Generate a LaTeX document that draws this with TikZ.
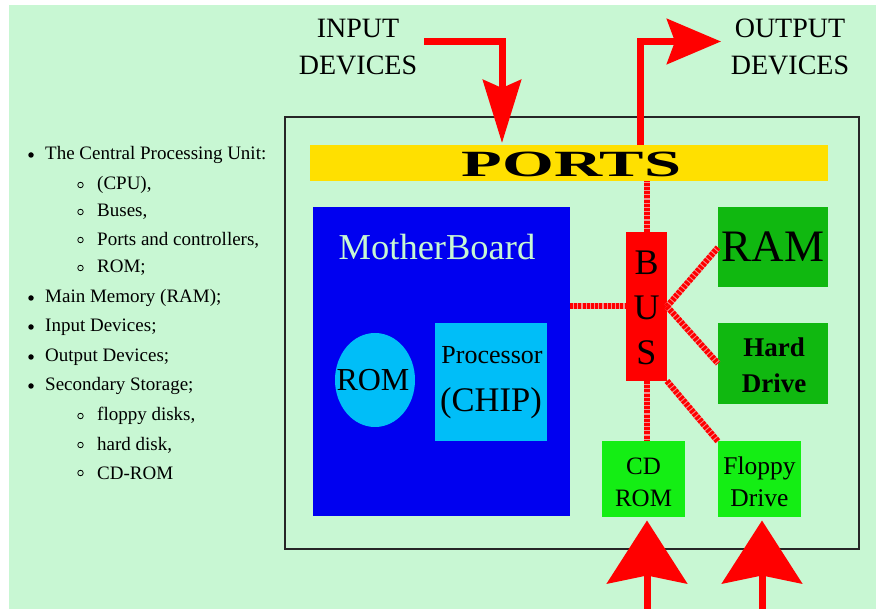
\documentclass[tikz,border=0pt]{standalone}
\usepackage{fontspec}
\setmainfont{Liberation Serif}
\usepackage{graphicx}
\usetikzlibrary{arrows.meta,shapes.geometric}
\definecolor{bg}{HTML}{C8F7D3}
\definecolor{portsyellow}{HTML}{FFE000}
\definecolor{mbblue}{HTML}{0000F0}
\definecolor{chipblue}{HTML}{00BEF8}
\definecolor{darkgreen}{HTML}{10B810}
\definecolor{brightgreen}{HTML}{14EE14}
\definecolor{pink}{HTML}{F29090}
\newcommand{\fs}[2]{\fontsize{#1}{#2}\selectfont}
\begin{document}
\begin{tikzpicture}[x=1pt,y=-1pt,
  boxnode/.style={inner sep=0pt, outer sep=0pt},
  busline/.style={line width=6pt, draw=pink, postaction={draw=red, line width=6pt, dash pattern=on 3pt off 1.2pt}},
  arrowline/.style={draw=red, line width=7pt},
  listtext/.style={anchor=west, inner sep=0pt, font=\fs{19}{19}},
  dotbullet/.style={circle, fill=black, inner sep=0pt, minimum size=5.5pt},
  ringbullet/.style={circle, draw=black, line width=0.8pt, inner sep=0pt, minimum size=5.5pt}]
\useasboundingbox (0,0) rectangle (876,609);
\fill[bg] (9,5) rectangle (876,609);

% outer box
\node[boxnode, draw=black!85, line width=1.6pt, minimum width=574pt, minimum height=432pt] (box) at (572,333) {};

% ports
\node[boxnode, fill=portsyellow, minimum width=518pt, minimum height=36pt] (ports) at (569,163) {};
\node[inner sep=0pt] (portstext) at (571.5,164) {\scalebox{1.8}[1]{\fs{37}{37}\bfseries PORTS}};

% motherboard
\node[boxnode, fill=mbblue, minimum width=257pt, minimum height=309pt] (mb) at (441.5,361.5) {};
\node[inner sep=0pt, text=bg, font=\fs{36.5}{36.5}] (mbtext) at (437,247) {MotherBoard};
\node[ellipse, fill=chipblue, inner sep=0pt, minimum width=80pt, minimum height=94pt] (rom) at (375,380) {};
\node[inner sep=0pt, font=\fs{32}{32}] (romtext) at (373,380) {ROM};
\node[boxnode, fill=chipblue, minimum width=112pt, minimum height=118pt] (cpu) at (491,382) {};
\node[inner sep=0pt, font=\fs{26}{26}] (cputext1) at (492,355) {Processor};
\node[inner sep=0pt, font=\fs{34.5}{34.5}] (cputext2) at (491,403) {(CHIP)};

% bus
\node[boxnode, fill=red, minimum width=41pt, minimum height=149pt] (bus) at (646.5,306.5) {};
\node[inner sep=0pt, font=\fs{36}{36}] (busB) at (646.5,263) {B};
\node[inner sep=0pt, font=\fs{36}{36}] (busU) at (646.5,308) {U};
\node[inner sep=0pt, font=\fs{36}{36}] (busS) at (646.5,353) {S};

% memory / storage
\node[boxnode, fill=darkgreen, minimum width=110pt, minimum height=80pt] (ram) at (773,247.5) {};
\node[inner sep=0pt, font=\fs{45}{45}] (ramtext) at (773,247) {RAM};
\node[boxnode, fill=darkgreen, minimum width=110pt, minimum height=81pt] (hd) at (773,363.5) {};
\node[inner sep=0pt, align=center, font=\fs{27}{36}\bfseries] (hdtext) at (774,365) {Hard\\Drive};
\node[boxnode, fill=brightgreen, minimum width=83pt, minimum height=75pt] (cd) at (643.5,479) {};
\node[inner sep=0pt, align=center, font=\fs{25}{32}] (cdtext) at (643.5,482) {CD\\ROM};
\node[boxnode, fill=brightgreen, minimum width=83pt, minimum height=75pt] (fd) at (759.5,479) {};
\node[inner sep=0pt, align=center, font=\fs{25.5}{32}] (fdtext) at (759.5,482) {Floppy\\Drive};

% bus connections
\draw[busline] (bus.north) -- (bus.north |- ports.south);
\draw[busline] (mb.east |- bus.west) -- (bus.west);
\draw[busline] (bus.east) -- (ram.west);
\draw[busline] (bus.east) -- (hd.west);
\draw[busline] (bus.south) -- (bus.south |- cd.north);
\draw[busline] (bus.south east) -- (fd.north west);

% input / output labels
\node[inner sep=0pt, align=center, font=\fs{28}{37}] (inlabel) at (358,47) {INPUT\\DEVICES};
\node[inner sep=0pt, align=center, font=\fs{28}{37}] (outlabel) at (790,47) {OUTPUT\\DEVICES};

% arrows
\coordinate (inStart) at (424,41.5);
\coordinate (inEnd) at (502,143);
\draw[arrowline, -{Stealth[length=63pt,width=38pt,inset=8pt]}] (inStart) -| (inEnd);
\coordinate (outStart) at (640.5,145);
\coordinate (outEnd) at (721,41.5);
\draw[arrowline, -{Stealth[length=54pt,width=45pt,inset=8pt]}] (outStart) |- (outEnd);
\coordinate (cdIn) at (647,609);
\draw[arrowline, shorten >=4pt, -{Stealth[length=63pt,width=80pt,inset=8pt]}] (cdIn) -- (cdIn |- cd.south);
\coordinate (fdIn) at (762,609);
\draw[arrowline, shorten >=4pt, -{Stealth[length=63pt,width=80pt,inset=8pt]}] (fdIn) -- (fdIn |- fd.south);

% left list
\node[dotbullet] (b1) at (31,155) {};
\node[listtext] (t1) at (45,155) {The Central Processing Unit:};
\node[ringbullet] (s1) at (80.5,185) {};
\node[listtext] (t2) at (97,185) {(CPU),};
\node[ringbullet] (s2) at (80.5,212) {};
\node[listtext] (t3) at (97,212) {Buses,};
\node[ringbullet] (s3) at (80.5,240) {};
\node[listtext] (t4) at (97,240) {Ports and controllers,};
\node[ringbullet] (s4) at (80.5,268) {};
\node[listtext] (t5) at (97,268) {ROM;};
\node[dotbullet] (b2) at (31,298) {};
\node[listtext] (t6) at (45,298) {Main Memory (RAM);};
\node[dotbullet] (b3) at (31,327) {};
\node[listtext] (t7) at (45,327) {Input Devices;};
\node[dotbullet] (b4) at (31,357) {};
\node[listtext] (t8) at (45,357) {Output Devices;};
\node[dotbullet] (b5) at (31,386) {};
\node[listtext] (t9) at (45,386) {Secondary Storage;};
\node[ringbullet] (s5) at (80.5,416) {};
\node[listtext] (t10) at (97,416) {floppy disks,};
\node[ringbullet] (s6) at (80.5,445) {};
\node[listtext] (t11) at (97,445) {hard disk,};
\node[ringbullet] (s7) at (80.5,473) {};
\node[listtext] (t12) at (97,473) {CD-ROM};
\end{tikzpicture}
\end{document}
